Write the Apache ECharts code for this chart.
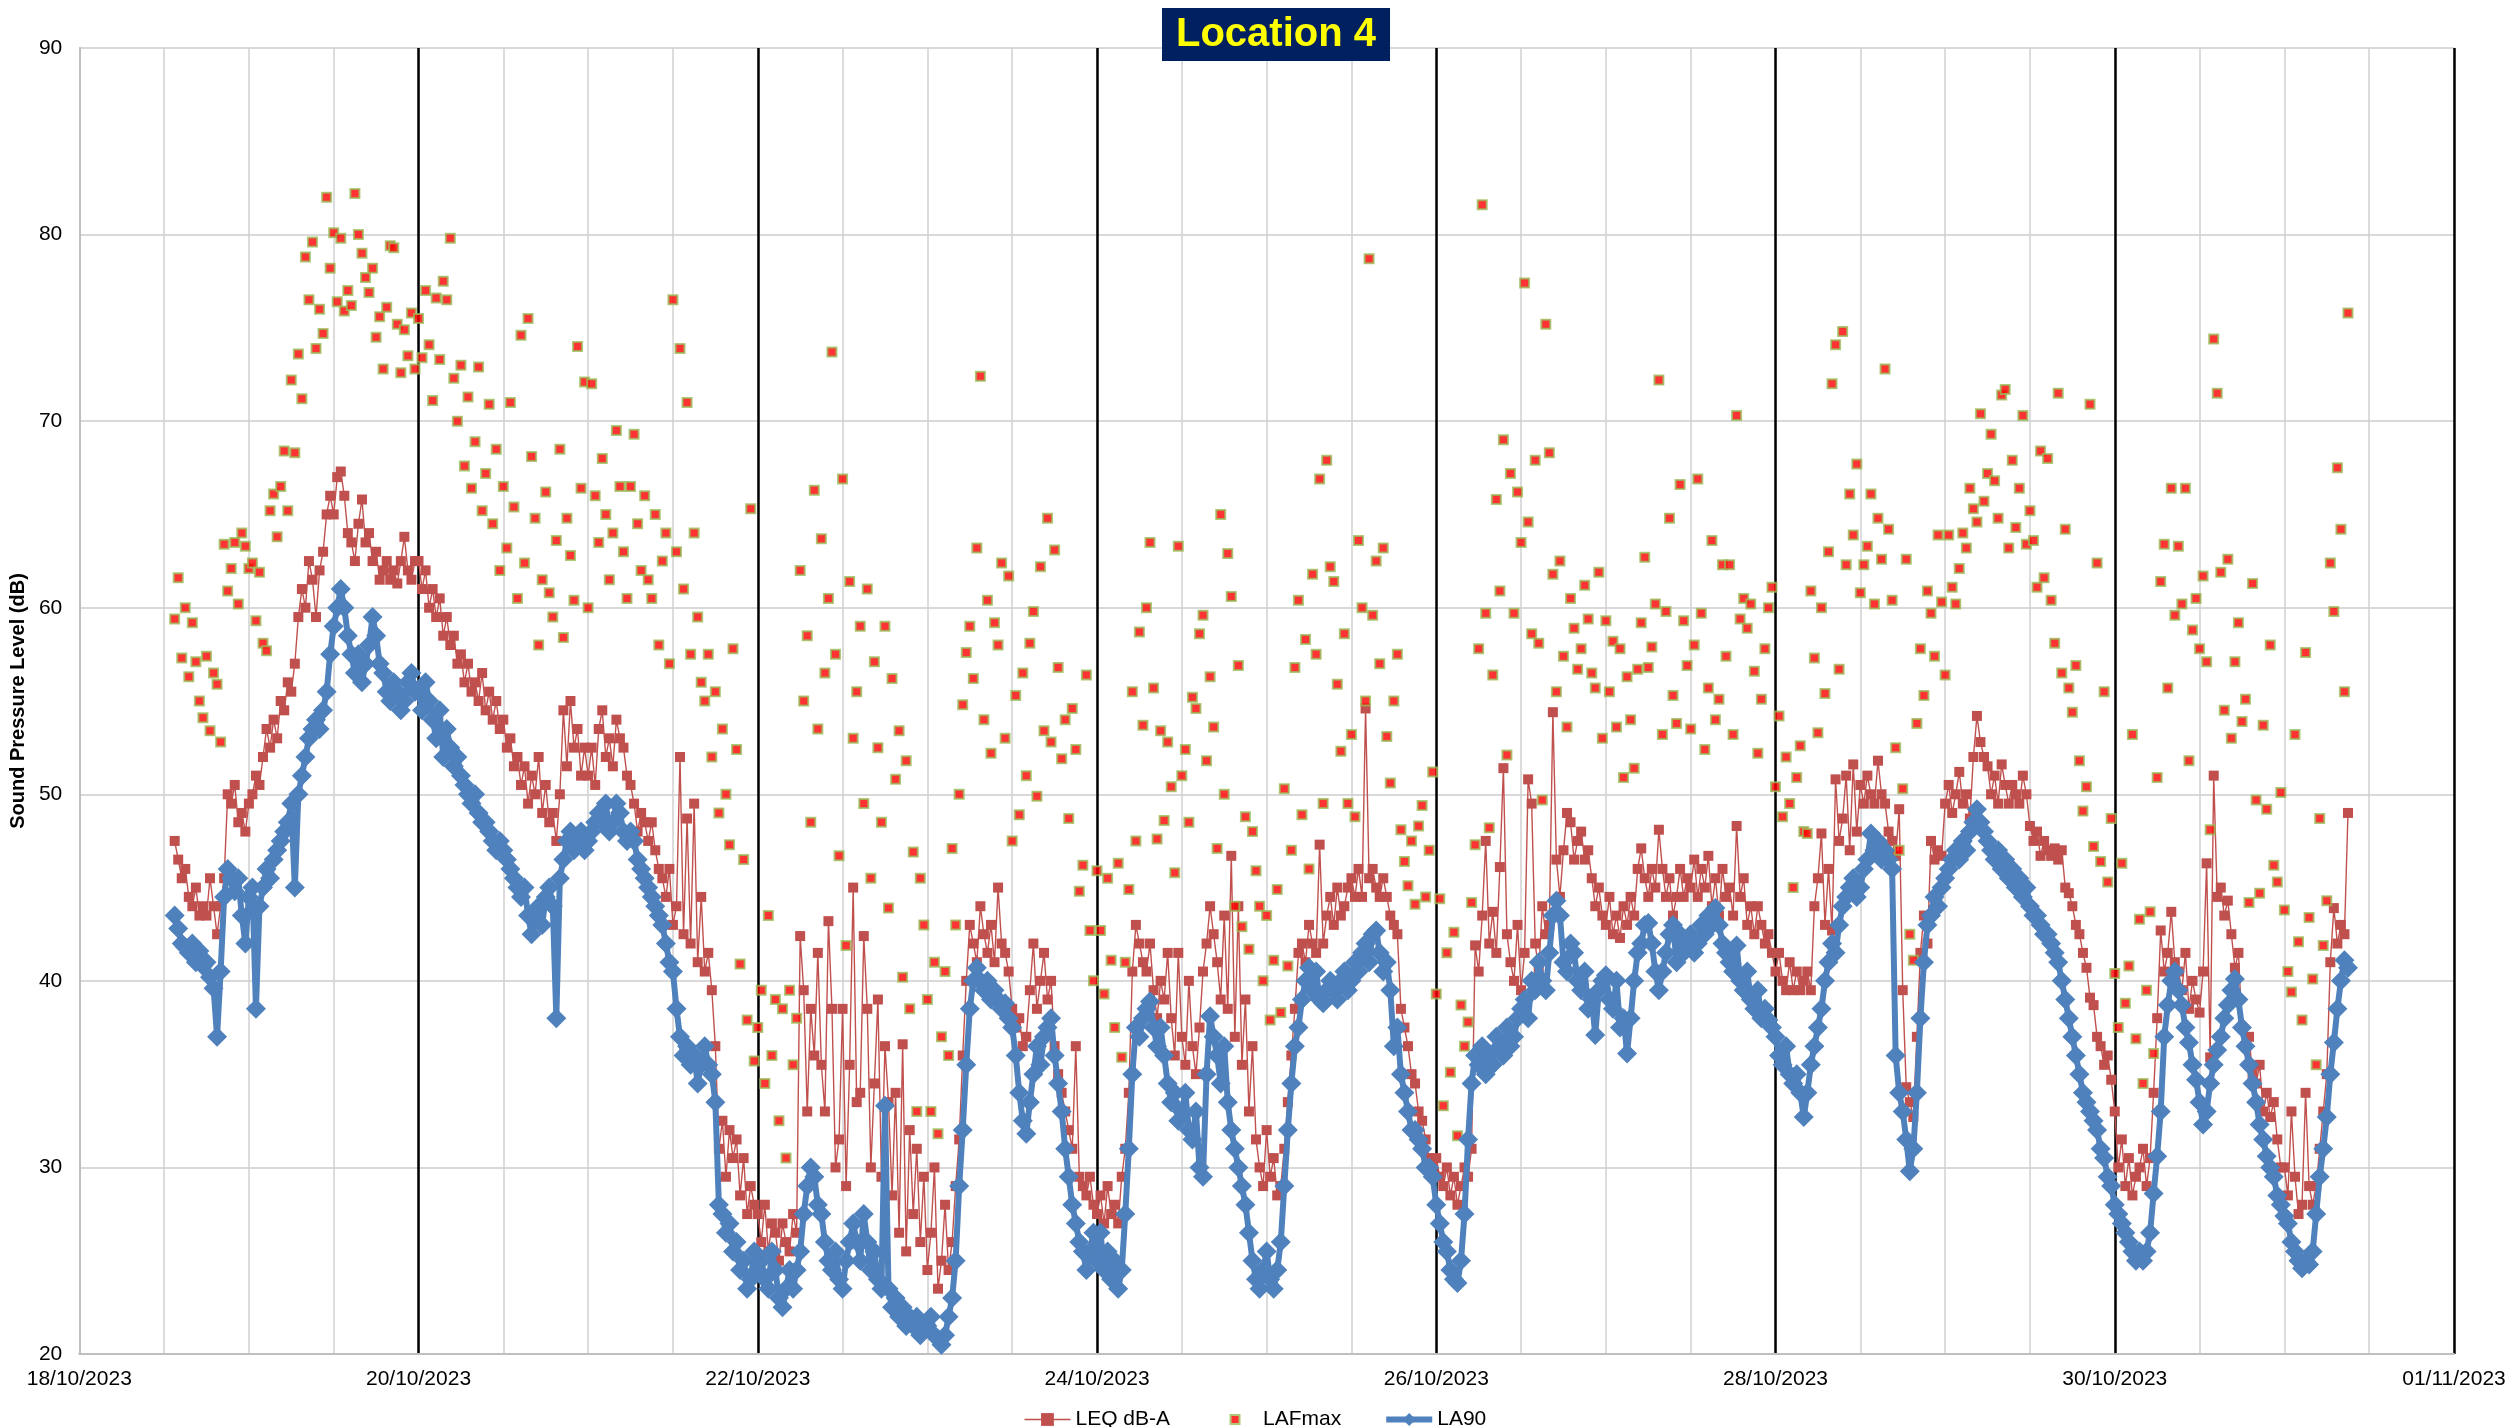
<!DOCTYPE html>
<html><head><meta charset="utf-8">
<script src="https://cdn.jsdelivr.net/npm/echarts@6/dist/echarts.min.js"></script>
<style>html,body{margin:0;padding:0;background:#fff}#c{width:2510px;height:1427px}</style>
</head><body><div id="c"></div>
<script>
// First reading: 18/10/2023 13:30 (hours since 18/10/2023 00:00), one reading every 30 minutes
const START_HOUR = 13.5;
const STEP_HOURS = 0.5;
const dateTicks = ['18/10/2023','20/10/2023','22/10/2023','24/10/2023','26/10/2023','28/10/2023','30/10/2023','01/11/2023'];
const seriesNames = ['LEQ dB-A','LAFmax','LA90'];

const la90 = [
// 18/10 13:30-23:30
43.5,42.8,42,41.8,41.5,42,41,41.6,40.8,41,40.2,39.6,37,40.5,44.5,46,45.5,44.8,45.5,43.5,42,
// 19/10
44.5,45,38.5,44,45,46,45.5,46.5,47,47.5,48,48.5,
49.5,45,50,51,52,53,53.5,54,53.5,54.5,55.5,57.5,
59,60,61,60,58.5,57.5,56.5,57.5,56,57,58,59.5,
58.5,57,56.5,55.5,55,56,55.5,54.5,55,56,56.5,55.5,
// 20/10
55.5,54.5,56,55,54,53,54.5,52,53.5,52.5,51.5,52,
51,50.5,50,49.5,50,49,48.5,48.5,48,47.5,47,47.5,
47,46.5,46,45.5,45,44.5,45,43.5,42.5,43.5,44,43,
44.5,45,44,38,45.5,46.5,47.5,48,47,47.5,48,47,
// 21/10
47.5,48,48.5,49,48.5,49.5,48,48.5,49.5,49,48,47.5,
48,47.5,46.5,46,45.5,45,44.5,44,43.5,43,42,41,
40.5,38.5,37,36,36.5,35.5,36,34.5,35.5,36.5,35.5,35,
33.5,28,27.5,26.5,27,25.5,26,24.5,25,23.5,24,25.5,
// 22/10
24.5,25,24,23.5,25.5,24.5,23,22.5,23.5,24.5,23.5,24.5,
25.5,27.5,29,30,29.5,28,27.5,26,25,24.5,25.5,24,
23.5,25,26,27,26,25,27.5,26,24.5,25.5,24,23.5,
33.3,23.5,22.5,23,22,22.5,21.5,22,21.5,22,21,21.5,
// 23/10
21.5,22,21,20.8,20.5,21,22,23,25,29,32,35.5,
38.5,40,40.7,40,39.5,40,39,39.5,39,38.5,38.8,38,
37.5,36,34,32.5,31.8,33.5,35,36.5,35.5,37,37.5,38,
36,34.5,33,31,29.5,28,27,26,25.5,24.5,25.5,26.5,
// 24/10
25,26.5,24.5,25.5,24,25,23.5,24.5,27.5,31,35,37.5,
37,38,38.5,38.9,37.5,36.5,37.5,36,34.5,33.5,34,32.5,
33,34,32,31.5,33,30,29.5,35,38.1,37,36,34.5,
36.5,33.5,32,31,30,29,28,26.5,25,24,23.5,24.5,
// 25/10
25.5,24,23.5,24.5,26,29,32,34.5,36.5,37.5,39,40,
40.7,39.5,40.5,39,38.8,39.5,40,39.5,39,40,40.5,39.5,
40,41,40.5,41.5,42,41,42.5,42.7,41.5,40.5,41,39.5,
36.5,37.5,35,34,33,32,32,31.5,31,30,30,29.5,
// 26/10
28,27,26,25.5,24.5,24,23.8,25,27.5,31.5,34.5,36,
35.5,36.5,35,36,35.5,37,36.5,36,37.5,36.5,37,38,
38.5,39,38,40,39.5,41,40,39.5,41.5,43.5,44.3,43.5,
41,40.5,42,41.5,40,39.5,40.5,38.5,39,37.1,39.5,40,
// 27/10
40.3,39,38.5,40,37.5,38,36.1,38,40,41.5,42,43,
43.1,42,40.5,39.5,40.5,41.5,42.5,43,41,42.5,41.5,42,
42.5,41.5,42,43,42.5,43.5,43,43.9,43,42,41.5,41,
40.5,41.9,40,39.5,40.5,39,38.5,39.5,38,38.5,37.9,37.5,
// 28/10
37,36,35.5,36.5,35,34.5,35,34,32.7,34,35.5,36.5,
37.5,38.5,40,41,42,41.5,43,44,44.5,45,45.5,44.5,
45,46,46.5,47.9,47,47.5,46.5,47,46.5,46,36,34,
33,31.5,29.8,31,34,38,41,43,43.5,44.5,44,45,
// 29/10
45.5,46,46.5,47,46.5,47.5,47,48,48.5,49.2,48.5,48,
47.5,47,46.5,47,46,46.5,45.5,46,45,45.5,44.5,45,
44,43.5,43.5,43,42.5,42.5,42,41.5,41,40,39,38,
37,36,35,34,33.5,33,32.5,32,31,30.5,29.5,29,
// 30/10
28,27.5,27,26.5,26,25.5,25,25.5,25,25.5,26.5,28.6,
30.6,33,37,38.7,40,40.5,39.5,38.7,37.5,36.7,35.5,34.7,
33.5,32.3,33,34.5,35.5,36.3,37,38,38.7,39.5,40.1,39,
37.5,36.5,35.5,34.5,33.5,32.3,31.5,30.6,30,29.5,28.5,28,
// 31/10 00:00-09:00
27.4,27,26,25.5,25,24.6,25,24.8,25.5,27.5,29.5,31,32.7,35,36.7,38.5,40,41.1,40.7
];

const leq = [
// 18/10
47.5,46.5,45.5,46,44.5,44,45,43.5,44,43.5,45.5,44,42.5,44,45.5,50,49.5,50.5,48.5,49,48,
// 19/10
49.5,50,51,50.5,52,53.5,52.5,54,53,55,54.5,56,
55.5,57,59.5,61,60,62.5,61.5,59.5,62,63,65,66,
65,67,67.3,66,64,63.5,62.5,64.5,65.8,63.5,64,62.5,
63,61.5,62,62.5,61.5,62,61.3,62.5,63.8,62,61.5,62.5,
// 20/10
62.5,61,62,60,61,59.5,60.5,58.5,59.5,58,58.5,57,
57.5,56,57,55.5,56,55,56.5,54.5,55.5,54,55,53.5,
54,52.5,53,51.5,52,50.5,51.5,49.5,51,50,52,49,
50.5,48.5,49,47.5,50,54.5,51.5,55,52.5,53.5,51,52.5,
// 21/10
51,52.5,50.5,53.5,54.5,52,53,51.5,54,53,52.5,51,
50.5,49.5,48,49,48.5,47.5,48.5,47,46,45.5,44.5,46,
43,44,52,42.5,48.7,42,49.5,41,44.5,40.5,41.5,39.5,
36.5,31,32.5,29.5,32,30.5,31.5,28.5,30.5,27.5,29,28,
// 22/10
27.5,26,28,25.5,27,26.5,25,27,26,25.5,27.5,26.5,
42.4,39.5,33,38.5,36,41.5,35.5,33,43.2,38.5,30,31.5,
38.5,29,35.5,45,33.5,34,42.4,38.5,30,34.5,39,29.5,
36.5,33.5,28.5,34,26.5,36.6,25.5,32,27.5,31,26,29.5,
// 23/10
24.5,26.5,30,23.5,25,28,24.5,26,29,31.5,36,40,
43,42,41,44,42.5,41.5,43,41,45,42,41.5,40.5,
38.5,37.5,38,36.5,37,39.5,42,38.5,40,41.5,39,40,
36.5,35,34,33,32,31,36.5,29.5,29,28.5,29.5,28,
// 24/10
27.5,28.5,27,29,27.5,28,27,29.5,31,34,40.5,43,
42,41,40.5,42,39.5,38,40,39,41.5,38,36,41.5,
37,35.5,40,36.5,35,37.5,40.5,42,44,42.5,41,39,
43.5,38.5,46.7,37,44,35.5,39,33,36.5,31.5,30,29,
// 25/10
32,29.5,30.5,28.5,29,31,33.5,36,38.5,41.5,42,41,
43,42,41.5,47.3,42,43.5,44.5,43,45,43.5,44,45,
45.5,44.5,46,44.5,54.6,45.5,46,45,44.5,45.5,44.5,43.5,
43,42.5,38.5,37.5,36.5,35,34.5,33,32.5,31.5,30.5,30,
// 26/10
30.5,29.5,29,30,28.5,29.5,28,29,30,29.5,31,41.9,
40.5,43.5,47.5,42,43.7,41.5,46.1,51.4,42.5,41,40,43,
39.5,41.5,50.8,49.5,42,40.5,44,42.5,43,54.4,46.5,44.5,
47,49,48.5,46.5,47.5,48,46.5,47,45.5,44,45,43.5,
// 27/10
43,44.5,42.5,43.5,42.3,44,43,44.5,43.5,46,47.1,45.5,
44.5,46,45,48.1,46,44.5,45.5,43.5,44.5,46,44.5,45.5,
45,46.5,44.5,46,45,46.7,44,45.5,43.5,46,44.5,45,
43.5,48.3,44.5,45.5,43,44,42.5,44,43,42,42.5,41.5,
// 28/10
40.5,41.5,40,39.5,41,39.5,40.5,39.5,40,40.5,39.5,44,
45.5,47.9,43,46,42.7,50.8,47.5,48.7,51,47,51.6,48,
50.5,49.5,51,50,49.5,51.8,50,49.5,48,47.5,46.7,49.2,
39.5,34.3,33.5,32.7,37,41.5,43.5,42,47.5,46.5,47,46.7,
// 29/10
49.5,50.5,49,50,51.2,49.5,50,48.7,52,54.2,52.8,52,
51.5,50,51,49.5,51.6,50.5,49.5,50.5,50,49.5,51,50,
48.3,47.5,48,46.7,47.5,47,46.7,47.1,46.5,47,45,44.7,
44,43,42.5,41.5,40.7,39.1,38.7,37,36.5,35.5,36,34.7,
// 30/10
33,30,31.5,29,30.5,28.5,29.5,30,31,29,30.5,34,
38,42.7,40.5,41.5,43.7,41,40.5,39.5,41.5,38.5,40,39,
38.3,40.5,46.3,35.9,51,44.5,45,43.5,44.3,42.5,40.7,41.5,
37.5,36.5,37,35,34.5,35.5,33,34,32.7,33.5,31.5,30,
// 31/10
30,28.5,33,29.5,27.5,28,34,29,28,29,31,33,35,41,43.9,42,43,42.5,49
];

const lafmax = [
// 18/10
59.4,61.6,57.3,60,56.3,59.2,57.1,55,54.1,57.4,53.4,56.5,55.9,52.8,63.4,60.9,62.1,63.5,60.2,64,63.3,
// 19/10
62.1,62.4,59.3,61.9,58.1,57.7,65.2,66.1,63.8,66.5,68.4,65.2,
72.2,68.3,73.6,71.2,78.8,76.5,79.6,73.9,76,74.7,82,78.2,
80.1,76.4,79.8,75.9,77,76.2,82.2,80,79,77.7,76.9,78.2,
74.5,75.6,72.8,76.1,79.4,79.3,75.2,72.6,74.9,73.5,75.8,72.8,
// 20/10
75.5,73.4,77,74.1,71.1,76.6,73.3,77.5,76.5,79.8,72.3,70,
73,67.6,71.3,66.4,68.9,72.9,65.2,67.2,70.9,64.5,68.5,62,
66.5,63.2,71,65.4,60.5,74.6,62.4,75.5,68.1,64.8,58,61.5,
66.2,60.8,59.5,63.6,68.5,58.4,64.8,62.8,60.4,74,66.4,72.1,
// 21/10
60,72,66,63.5,68,65,61.5,64,69.5,66.5,63,60.5,
66.5,69.3,64.5,62,66,61.5,60.5,65,58,62.5,64,57,
76.5,63,73.9,61,71,57.5,64,59.5,56,55,57.5,52,
55.5,49,53.5,50,47.3,57.8,52.4,40.9,46.5,37.9,65.3,35.7,
// 22/10
37.5,39.5,34.5,43.5,36,39,32.5,38.5,30.5,39.5,35.5,38,
62,55,58.5,48.5,66.3,53.5,63.7,56.5,60.5,73.7,57.5,46.7,
66.9,41.9,61.4,53,55.5,59,49.5,61,45.5,57.1,52.5,48.5,
59,43.9,56.2,50.8,53.4,40.2,51.8,38.5,46.9,33,45.5,43,
// 23/10
39,33,41,31.8,37,40.5,36,47.1,43,50,54.8,57.6,
59,56.2,63.2,72.4,54,60.4,52.2,59.2,58,62.4,53,61.7,
47.5,55.3,48.9,56.5,51,58.1,59.8,49.9,62.2,53.4,64.8,52.8,
63.1,56.8,51.9,54,48.7,54.6,52.4,44.8,46.2,56.4,42.7,40,
// 24/10
45.9,42.7,39.3,45.5,41.1,37.5,46.3,35.9,41,44.9,55.5,47.5,
58.7,53.7,60,63.5,55.7,47.6,53.4,48.6,52.8,50.4,45.8,63.3,
51,52.4,48.5,55.2,54.6,58.6,59.6,51.8,56.3,53.6,47.1,65,
50,62.9,60.6,44,56.9,42.9,48.8,41.7,48,45.9,44,40,
// 25/10
43.5,37.9,41.1,44.9,38.3,50.3,40.8,47,56.8,60.4,48.9,58.3,
46,61.8,57.5,66.9,49.5,67.9,62.2,61.4,55.9,52.3,58.6,49.5,
53.2,48.8,63.6,60,55,78.7,59.6,62.5,57,63.2,53.1,50.6,
55,57.5,48.1,46.4,45.1,47.5,44.1,48.3,49.4,44.5,47,51.2,
// 26/10
39.3,44.4,33.3,41.5,35.1,42.6,31.7,38.7,36.5,37.8,44.2,47.3,
57.8,81.6,59.7,48.2,56.4,65.8,60.9,69,52.1,67.2,59.7,66.2,
63.5,77.4,64.6,58.6,67.9,58.1,49.7,75.2,68.3,61.8,55.5,62.5,
57.4,53.6,60.5,58.9,56.7,57.8,61.2,59.4,56.5,55.7,61.9,53,
// 27/10
59.3,55.5,58.2,53.6,57.8,50.9,56.3,54,51.4,56.7,59.2,62.7,
56.8,57.9,60.2,72.2,53.2,59.8,64.8,55.3,53.8,66.6,59.3,56.9,
53.5,58,66.9,59.7,52.4,55.7,63.6,54,55.1,62.3,57.4,62.3,
53.2,70.3,59.4,60.5,58.9,60.2,56.6,52.2,55.1,57.8,60,61.1,
// 28/10
50.4,54.2,48.8,52,49.5,45,50.9,52.6,48,47.9,60.9,57.3,
53.3,60,55.4,63,72,74.1,56.7,74.8,62.3,66.1,63.9,67.7,
60.8,62.3,63.3,66.1,60.2,64.8,62.6,72.8,64.2,60.4,52.5,47,
50.3,62.6,42.5,41.1,53.8,57.8,55.3,60.9,59.7,57.4,63.9,60.3,
// 29/10
56.4,63.9,61.1,60.2,62.1,64,63.2,66.4,65.3,64.6,70.4,65.7,
67.2,69.3,66.8,64.8,71.4,71.7,63.2,67.9,64.3,66.4,70.3,63.4,
65.2,63.6,61.1,68.4,61.6,68,60.4,58.1,71.5,56.5,64.2,55.7,
54.4,56.9,51.8,49.1,50.4,70.9,47.2,62.4,46.4,55.5,45.3,48.7,
// 30/10
40.4,37.5,46.3,38.8,40.8,53.2,36.9,43.3,34.5,39.5,43.7,36.1,
50.9,61.4,63.4,55.7,66.4,59.6,63.3,60.2,66.4,51.8,58.8,60.5,
57.8,61.7,57.1,48.1,74.4,71.5,61.9,54.5,62.6,53,57.1,59.2,
53.9,55.1,44.2,61.3,49.7,44.7,53.7,49.2,58,46.2,45.3,50.1,
// 31/10
43.8,40.5,39.4,53.2,42.1,37.9,57.6,43.4,40.1,35.5,48.7,41.9,44.3,62.4,59.8,67.5,64.2,55.5,75.8
];

const hourAt = i => START_HOUR + i * STEP_HOURS;
const toPairs = arr => arr.map((v, i) => [hourAt(i), v]);
const FONT = "'Liberation Sans', Arial, sans-serif";

const LEQ_COLOR = '#C0504D', LA90_COLOR = '#4F81BD';
const lafIconSvg = "<svg xmlns='http://www.w3.org/2000/svg' width='44' height='16' viewBox='0 0 44 16'>" +
  "<rect x='17.5' y='3.5' width='9' height='9' fill='#FF0000' stroke='#9BBB59' stroke-width='2'/></svg>";
const lafIcon = 'image://data:image/svg+xml;charset=utf-8,' + encodeURIComponent(lafIconSvg);

const chart = echarts.init(document.getElementById('c'), null, {renderer: 'canvas'});
chart.setOption({
  animation: false,
  backgroundColor: '#ffffff',
  title: {
    text: 'Location 4', left: 1162, top: 8,
    backgroundColor: '#002060', padding: [3, 14, 3, 14],
    textStyle: {color: '#FFFF00', fontSize: 40, fontWeight: 'bold', fontFamily: FONT, lineHeight: 47}
  },
  legend: {
    data: [
      {name: seriesNames[0], lineStyle: {width: 1.5}},
      {name: seriesNames[1], icon: lafIcon},
      {name: seriesNames[2], lineStyle: {width: 6}}
    ],
    top: 1404, left: 'center', itemWidth: 46, itemHeight: 16, itemGap: 42,
    textStyle: {fontSize: 21, color: '#000', fontFamily: FONT}
  },
  grid: {left: 78, right: 56, top: 48, bottom: 73, containLabel: false},
  xAxis: [
    {
      type: 'value', min: 0, max: 336, interval: 48, position: 'bottom', z: 1,
      axisLine: {show: true, onZero: false, lineStyle: {color: '#bfbfbf', width: 2}},
      axisTick: {show: false},
      axisLabel: {formatter: v => dateTicks[Math.round(v / 48)] || '', fontSize: 21, color: '#000', margin: 15, fontFamily: FONT, showMinLabel: true, showMaxLabel: true},
      splitLine: {show: true, showMinLine: false, lineStyle: {color: '#000', width: 2.5}}
    },
    {
      type: 'value', min: 0, max: 336, interval: 12, position: 'bottom', z: 0,
      axisLine: {show: false}, axisTick: {show: false}, axisLabel: {show: false},
      splitLine: {show: true, showMinLine: false, lineStyle: {color: '#d0d0d0', width: 1.5}}
    }
  ],
  yAxis: {
    type: 'value', min: 20, max: 90, interval: 10,
    name: 'Sound Pressure Level (dB)', nameLocation: 'middle', nameGap: 50, nameRotate: 90,
    nameTextStyle: {fontSize: 20, fontWeight: 'bold', color: '#000', fontFamily: FONT},
    axisLine: {show: true, lineStyle: {color: '#bfbfbf', width: 2}},
    axisTick: {show: false},
    axisLabel: {fontSize: 21, color: '#000', margin: 17, fontFamily: FONT},
    splitLine: {show: true, lineStyle: {color: '#d9d9d9', width: 2}}
  },
  series: [
    {
      name: seriesNames[0], type: 'line', xAxisIndex: 0, data: toPairs(leq), z: 2,
      symbol: 'rect', symbolSize: 10,
      lineStyle: {color: LEQ_COLOR, width: 1.4},
      itemStyle: {color: LEQ_COLOR}
    },
    {
      name: seriesNames[1], type: 'scatter', xAxisIndex: 0, data: toPairs(lafmax), z: 3,
      symbol: 'rect', symbolSize: 9,
      itemStyle: {color: '#FF0000', borderColor: '#9BBB59', borderWidth: 2}
    },
    {
      name: seriesNames[2], type: 'line', xAxisIndex: 0, data: toPairs(la90), z: 4,
      symbol: 'diamond', symbolSize: 20,
      lineStyle: {color: LA90_COLOR, width: 6},
      itemStyle: {color: LA90_COLOR}
    }
  ]
});
</script>
</body></html>
